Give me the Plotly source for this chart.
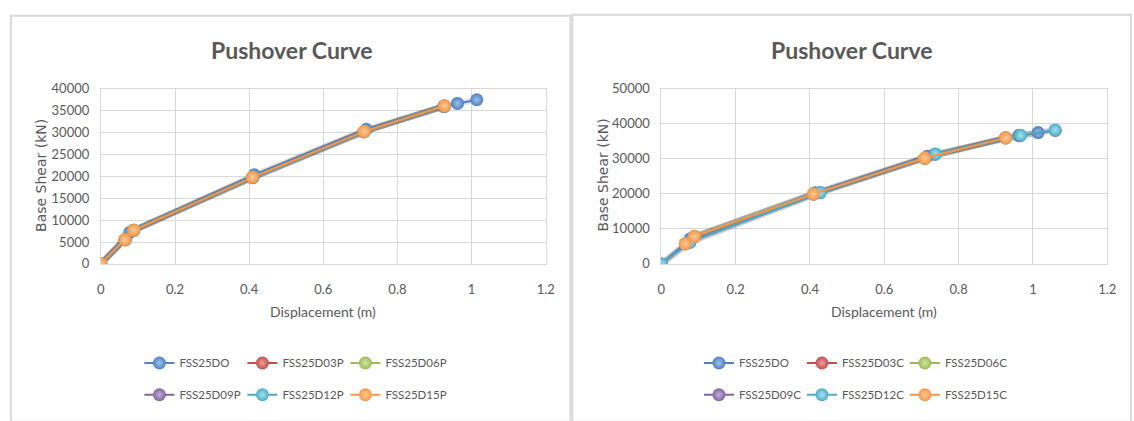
import plotly.graph_objects as go

# ---- data: displacement (m) and base shear (kN) per model ----
names_p = ["FSS25DO", "FSS25D03P", "FSS25D06P", "FSS25D09P", "FSS25D12P", "FSS25D15P"]
names_c = ["FSS25DO", "FSS25D03C", "FSS25D06C", "FSS25D09C", "FSS25D12C", "FSS25D15C"]

disp_d0 = [0, 0.078, 0.414, 0.716, 0.927, 0.962, 1.014]
shear_d0 = [0, 7200, 20350, 30750, 36000, 36650, 37500]

disp_d03p = [0, 0.066, 0.088, 0.409, 0.709, 0.925]
shear_d03p = [0, 5500, 7650, 19700, 30150, 35950]
disp_d06p = [0, 0.065, 0.088, 0.410, 0.710, 0.926]
shear_d06p = [0, 5520, 7680, 19750, 30200, 36000]
disp_d09p = [0, 0.065, 0.089, 0.410, 0.710, 0.926]
shear_d09p = [0, 5540, 7690, 19760, 30250, 36050]
disp_d12p = [0, 0.065, 0.089, 0.410, 0.711, 0.927]
shear_d12p = [0, 5550, 7700, 19780, 30280, 36080]
disp_d15p = [0, 0.065, 0.089, 0.409, 0.710, 0.927]
shear_d15p = [0, 5560, 7690, 19780, 30260, 36110]

disp_d03c = [0.065, 0.090, 0.410, 0.709, 0.926]
shear_d03c = [5700, 7850, 19900, 30150, 35950]
disp_d06c = [0.065, 0.090, 0.410, 0.709, 0.927]
shear_d06c = [5750, 7870, 19950, 30200, 35980]
disp_d09c = [0, 0.077, 0.427, 0.736, 0.966, 1.060]
shear_d09c = [0, 6200, 20300, 31300, 36650, 38100]
disp_d12c = [0, 0.077, 0.428, 0.738, 0.967, 1.060]
shear_d12c = [0, 6240, 20400, 31400, 36730, 38270]
disp_d15c = [0.064, 0.089, 0.409, 0.709, 0.927]
shear_d15c = [5770, 7880, 19970, 30220, 35990]

series_p = [(disp_d0, shear_d0), (disp_d03p, shear_d03p), (disp_d06p, shear_d06p),
            (disp_d09p, shear_d09p), (disp_d12p, shear_d12p), (disp_d15p, shear_d15p)]
series_c = [(disp_d0, shear_d0), (disp_d03c, shear_d03c), (disp_d06c, shear_d06c),
            (disp_d09c, shear_d09c), (disp_d12c, shear_d12c), (disp_d15c, shear_d15c)]

x_ticks = [0, 0.2, 0.4, 0.6, 0.8, 1, 1.2]
x_tick_text = ["0", "0.2", "0.4", "0.6", "0.8", "1", "1.2"]
y_ticks_p = [0, 5000, 10000, 15000, 20000, 25000, 30000, 35000, 40000]
y_ticks_c = [0, 10000, 20000, 30000, 40000, 50000]

colors = ["#4F81BD", "#C0504D", "#9BBB59", "#8064A2", "#4BACC6", "#F79646"]
highlights = ["#9DC3EE", "#EC9F9D", "#D2E8A4", "#C0B0D8", "#A5E3F2", "#FCCB9C"]

W, H = 1134, 421
TXT = "#595959"
GRID = "#D9D9D9"
FONT = "Lato"


def px_x(p):
    return p / W


def px_y(p):
    return (H - p) / H


fig = go.Figure()


def add_series(series, names, xa, ya, legends):
    # soft drop shadow under every curve
    for xs, ys in series:
        fig.add_trace(go.Scatter(
            x=xs, y=ys, mode="lines", xaxis=xa, yaxis=ya, showlegend=False,
            hoverinfo="skip", line=dict(color="rgba(40,40,40,0.12)", width=6),
        ))
    for i, ((xs, ys), nm) in enumerate(zip(series, names)):
        fig.add_trace(go.Scatter(
            x=xs, y=ys, name=nm, mode="lines+markers",
            xaxis=xa, yaxis=ya, legend=legends[0] if i < 3 else legends[1],
            line=dict(color=colors[i], width=2),
            marker=dict(size=13, color=colors[i],
                        gradient=dict(type="radial", color=highlights[i])),
        ))


add_series(series_p, names_p, "x", "y", ("legend", "legend2"))
add_series(series_c, names_c, "x2", "y2", ("legend3", "legend4"))

axis_common = dict(
    showgrid=True, gridcolor=GRID, gridwidth=1,
    showline=True, linecolor=GRID, linewidth=1, mirror=True,
    zeroline=False, ticks="",
    tickfont=dict(family=FONT, size=13, color=TXT),
    tickmode="array",
)
ydom = [px_y(266), px_y(84)]
left_dom = [px_x(98), px_x(548)]
right_dom = [px_x(665), px_x(1116)]

fig.update_layout(
    width=W, height=H,
    margin=dict(l=0, r=0, t=0, b=0),
    paper_bgcolor="white", plot_bgcolor="white",
    showlegend=True,
    xaxis=dict(domain=left_dom, range=[0, 1.2], tickvals=x_ticks, ticktext=x_tick_text,
               anchor="y", ticklabelstandoff=14, **axis_common),
    yaxis=dict(domain=ydom, range=[0, 40000], tickvals=y_ticks_p,
               ticktext=[str(v) for v in y_ticks_p], anchor="x",
               ticklabelstandoff=8, **axis_common),
    xaxis2=dict(domain=right_dom, range=[0, 1.2], tickvals=x_ticks, ticktext=x_tick_text,
                anchor="y2", ticklabelstandoff=14, **axis_common),
    yaxis2=dict(domain=ydom, range=[0, 50000], tickvals=y_ticks_c,
                ticktext=[str(v) for v in y_ticks_c], anchor="x2",
                ticklabelstandoff=8, **axis_common),
)

legend_common = dict(orientation="h", xanchor="left", yanchor="middle",
                     font=dict(family=FONT, size=11.5, color=TXT),
                     entrywidth=58, entrywidthmode="pixels", bgcolor="rgba(0,0,0,0)",
                     itemclick=False, itemdoubleclick=False, tracegroupgap=0)
fig.update_layout(
    legend=dict(x=px_x(137), y=px_y(369), **legend_common),
    legend2=dict(x=px_x(137), y=px_y(402), **legend_common),
    legend3=dict(x=px_x(703), y=px_y(369), **legend_common),
    legend4=dict(x=px_x(703), y=px_y(402), **legend_common),
)

# chart titles and axis titles
for cx in (291, 858):
    fig.add_annotation(text="<b>Pushover Curve</b>", x=px_x(cx), y=px_y(44),
                       xref="paper", yref="paper", showarrow=False,
                       xanchor="center", yanchor="middle",
                       font=dict(family=FONT, size=23, color=TXT))
for cx in (323, 890):
    fig.add_annotation(text="Displacement (m)", x=px_x(cx), y=px_y(316),
                       xref="paper", yref="paper", showarrow=False,
                       xanchor="center", yanchor="middle",
                       font=dict(family=FONT, size=14, color=TXT))
for cx in (38, 606):
    fig.add_annotation(text="Base Shear (kN)", x=px_x(cx), y=px_y(174),
                       xref="paper", yref="paper", showarrow=False, textangle=-90,
                       xanchor="center", yanchor="middle",
                       font=dict(family="DejaVu Sans", size=14, color=TXT))

# chart frames
fig.add_shape(type="rect", xref="paper", yref="paper",
              x0=px_x(7), x1=px_x(573), y0=px_y(430), y1=px_y(8),
              line=dict(color=GRID, width=2))
fig.add_shape(type="rect", xref="paper", yref="paper",
              x0=px_x(575), x1=px_x(1140), y0=px_y(430), y1=px_y(7),
              line=dict(color=GRID, width=2))

fig.write_html("out.html")
